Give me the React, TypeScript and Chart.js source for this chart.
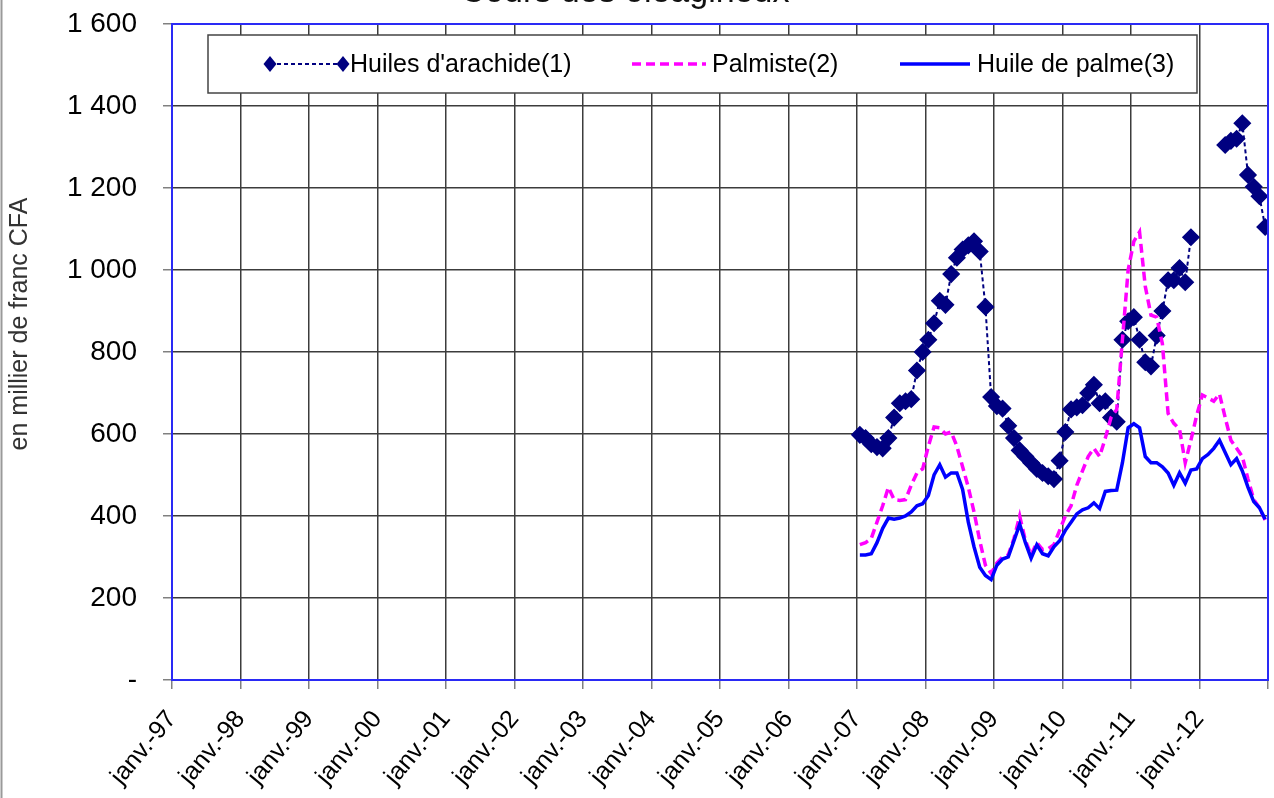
import React, { useEffect, useRef } from 'react';
import { Chart, registerables } from 'chart.js';

Chart.register(...registerables);

// ---------- DATA ----------
const chartTitle = 'Cours des oléagineux';
const yAxisTitle = 'en millier de franc CFA';
const seriesLabels = ["Huiles d'arachide(1)", 'Palmiste(2)', 'Huile de palme(3)'];

const axisStartYear = 1997; // janv.-97
const axisEndYear = 2013;   // axis closes at the end of 2012
const dataStartYear = 2007; // first monthly value: janv.-07
const yTickValues = [0, 200, 400, 600, 800, 1000, 1200, 1400, 1600];

// monthly values, janv.-07 .. déc.-12 (null = no quote)
const arachide = [
  598, 590, 575, 568, 565, 590, 640, 675, 680, 685, 755, 800,
  830, 870, 925, 915, 990, 1030, 1050, 1060, 1070, 1045, 910, 690,
  668, 662, 620, 590, 560, 545, 530, 515, 505, 497, 490, 535,
  605, 660, 665, 670, 700, 720, 675, 680, 640, 630, 830, 875,
  885, 830, 775, 765, 840, 900, 975, 975, 1005, 970, 1080, null,
  null, null, null, null, 1305, 1315, 1320, 1358, 1232, 1203, 1180, 1105,
];
const palmiste = [
  330, 335, 345, 385, 425, 470, 440, 438, 440, 475, 505, 515,
  570, 617, 615, 600, 605, 570, 520, 470, 410, 340, 280, 260,
  285, 300, 305, 345, 400, 340, 305, 335, 318, 320, 330, 365,
  400, 425, 475, 510, 545, 565, 545, 590, 640, 660, 830, 1000,
  1070, 1093, 960, 890, 885, 820, 650, 626, 612, 530, 585, 645,
  695, 688, 680, 698, 640, 585, 565, 545, 490, 440, 420, 390,
];
const palme = [
  305, 305, 308, 335, 370, 395, 392, 395, 400, 410, 425, 430,
  450, 500, 525, 495, 505, 505, 465, 385, 325, 275, 255, 245,
  280, 295, 300, 340, 380, 335, 297, 330, 308, 303, 325, 340,
  365, 385, 405, 415, 420, 432, 418, 460, 462, 463, 530, 615,
  625, 615, 545, 530, 530, 520, 505, 475, 505, 480, 512, 515,
  540, 550, 565, 585, 555, 525, 540, 510, 470, 435, 420, 392,
];

// ---------- helpers ----------
const FONT = "'Liberation Sans', Arial, Helvetica, sans-serif";
const monthOffset = (dataStartYear - axisStartYear) * 12;
const axisMonths = (axisEndYear - axisStartYear) * 12;
const toPoints = (vals: (number | null)[]) =>
  vals.map((v, i) => ({ x: monthOffset + i + 0.5, y: v }));
const fmtThousands = (v: number) => {
  if (v === 0) return '-';
  if (v >= 1000) return `${Math.floor(v / 1000)} ${String(v % 1000).padStart(3, '0')}`;
  return String(v);
};

const COLORS = ['#000080', '#ff00ff', '#0000ff'];
const PLOT_RIGHT = 1268;

const framePlugin = {
  id: 'frame',
  afterLayout(chart: any) {
    // stretch the plot area to the reference's right edge
    const xs = chart.scales.x;
    chart.chartArea.right = PLOT_RIGHT;
    chart.chartArea.width = PLOT_RIGHT - chart.chartArea.left;
    xs.right = PLOT_RIGHT;
    xs.width = PLOT_RIGHT - xs.left;
    xs.configure();
  },
  beforeDraw(chart: any) {
    const { ctx, width, height } = chart;
    ctx.save();
    ctx.fillStyle = '#ffffff';
    ctx.fillRect(0, 0, width, height);
    // outer chart border (left edge)
    ctx.strokeStyle = '#9a9a9a';
    ctx.lineWidth = 2;
    ctx.beginPath();
    ctx.moveTo(1.5, 0);
    ctx.lineTo(1.5, height);
    ctx.stroke();
    // title, mostly cut off at the top
    ctx.fillStyle = '#111';
    ctx.font = `34px ${FONT}`;
    ctx.textAlign = 'center';
    ctx.textBaseline = 'alphabetic';
    ctx.fillText(chartTitle, 625, 2);
    // y axis title
    ctx.translate(20, 324);
    ctx.rotate(-Math.PI / 2);
    ctx.fillStyle = '#333';
    ctx.font = `25px ${FONT}`;
    ctx.textBaseline = 'middle';
    ctx.fillText(yAxisTitle, 0, 0);
    ctx.restore();
  },
  afterDraw(chart: any) {
    const { ctx, chartArea } = chart;
    ctx.save();
    // plot area border
    ctx.strokeStyle = '#2a2af5';
    ctx.lineWidth = 2;
    ctx.strokeRect(chartArea.left, chartArea.top, chartArea.right - chartArea.left, chartArea.bottom - chartArea.top);
    // legend box
    const bx = 208, by = 35, bw = 989, bh = 58;
    ctx.fillStyle = '#ffffff';
    ctx.fillRect(bx, by, bw, bh);
    ctx.strokeStyle = '#444';
    ctx.lineWidth = 1.5;
    ctx.strokeRect(bx, by, bw, bh);
    const cy = by + bh / 2;
    const items = [
      { x0: 270, x1: 343, tx: 350 },
      { x0: 632, x1: 706, tx: 712 },
      { x0: 900, x1: 970, tx: 977 },
    ];
    chart.data.datasets.forEach((ds: any, i: number) => {
      const it = items[i];
      ctx.strokeStyle = ds.borderColor;
      ctx.lineWidth = i === 0 ? 2 : 3.5;
      ctx.setLineDash(ds.borderDash || []);
      ctx.beginPath();
      ctx.moveTo(it.x0, cy);
      ctx.lineTo(it.x1, cy);
      ctx.stroke();
      ctx.setLineDash([]);
      if (i === 0) {
        ctx.fillStyle = ds.borderColor;
        for (const px of [it.x0, it.x1]) {
          ctx.beginPath();
          ctx.moveTo(px, cy - 8);
          ctx.lineTo(px + 6.5, cy);
          ctx.lineTo(px, cy + 8);
          ctx.lineTo(px - 6.5, cy);
          ctx.closePath();
          ctx.fill();
        }
      }
      ctx.fillStyle = '#000';
      ctx.font = `25px ${FONT}`;
      ctx.textAlign = 'left';
      ctx.textBaseline = 'middle';
      ctx.fillText(ds.label, it.tx, cy + 1);
    });
    ctx.restore();
  },
};

export default function App() {
  const ref = useRef<HTMLCanvasElement>(null);
  useEffect(() => {
    if (!ref.current) return;
    const chart = new Chart(ref.current, {
      type: 'line',
      data: {
        datasets: [
          {
            label: seriesLabels[0],
            data: toPoints(arachide),
            borderColor: COLORS[0],
            backgroundColor: COLORS[0],
            borderWidth: 2,
            borderDash: [4, 3],
            pointStyle: 'rectRot',
            pointRadius: 8,
            pointBorderWidth: 1.5,
            pointBackgroundColor: COLORS[0],
            pointBorderColor: COLORS[0],
            spanGaps: false,
            order: 3,
            tension: 0,
          },
          {
            label: seriesLabels[1],
            data: toPoints(palmiste),
            borderColor: COLORS[1],
            backgroundColor: COLORS[1],
            borderWidth: 3.5,
            borderDash: [9, 5],
            pointRadius: 0,
            order: 2,
            tension: 0,
          },
          {
            label: seriesLabels[2],
            data: toPoints(palme),
            borderColor: COLORS[2],
            backgroundColor: COLORS[2],
            borderWidth: 3.5,
            pointRadius: 0,
            order: 1,
            tension: 0,
          },
        ],
      },
      options: {
        responsive: false,
        animation: false,
        devicePixelRatio: 1,
        layout: { padding: { top: 24, right: 6, left: 0, bottom: 0 } },
        plugins: { legend: { display: false }, tooltip: { enabled: false }, title: { display: false } },
        scales: {
          x: {
            type: 'linear',
            min: 0,
            max: axisMonths,
            afterBuildTicks: (s: any) => {
              const t = [];
              for (let m = 0; m <= axisMonths; m += 12) t.push({ value: m });
              s.ticks = t;
            },
            ticks: {
              autoSkip: false,
              maxRotation: 50,
              minRotation: 50,
              padding: 16,
              color: '#000',
              font: { size: 25, family: FONT },
              callback: (v: any) => {
                const m = Number(v);
                if (m >= axisMonths) return '';
                const yr = (axisStartYear + m / 12) % 100;
                return `janv.-${String(yr).padStart(2, '0')}`;
              },
            },
            grid: { color: '#3c3c3c', lineWidth: 1.5, tickLength: 9, tickColor: '#808080', tickWidth: 1.5 },
            border: { display: false },
            afterFit: (s: any) => { s.height = 118; s.paddingRight = 0; s.paddingLeft = 0; },
          },
          y: {
            min: 0,
            max: 1600,
            afterBuildTicks: (s: any) => { s.ticks = yTickValues.map((v) => ({ value: v })); },
            ticks: {
              padding: 26,
              color: '#000',
              font: { size: 28, family: FONT },
              callback: (v: any) => fmtThousands(Number(v)),
            },
            grid: { color: '#3c3c3c', lineWidth: 1.5, tickLength: 9, tickColor: '#808080', tickWidth: 1.5 },
            border: { display: false },
            afterFit: (s: any) => { s.width = 172; s.paddingTop = 0; s.paddingBottom = 0; },
          },
        },
      },
      plugins: [framePlugin],
    } as any);
    return () => chart.destroy();
  }, []);
  return (
    <div style={{ position: 'absolute', left: 0, top: 0, width: 1274, height: 798 }}>
      <canvas ref={ref} width={1274} height={798} style={{ display: 'block' }} />
    </div>
  );
}
